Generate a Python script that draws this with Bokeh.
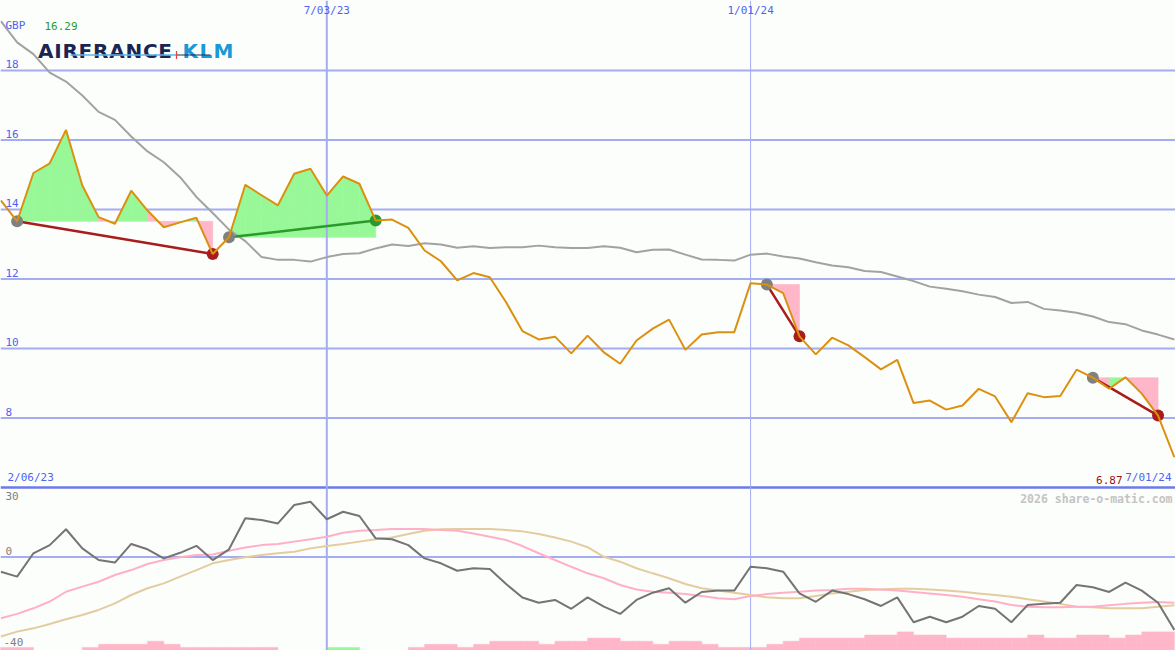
from bokeh.plotting import figure
from bokeh.models import Range1d, Span
from bokeh.embed import file_html
from bokeh.resources import INLINE
from bokeh.core.properties import value

# ---------------- data ----------------
weeks = list(range(1, 74))  # weekly points, week 0 = 2/06/23
price = [14.26, 13.66, 15.05, 15.33, 16.29, 14.69, 13.78, 13.59, 14.54, 13.97,
         13.49, 13.63, 13.76, 12.72, 13.20, 14.71, 14.41, 14.12, 15.03, 15.17,
         14.40, 14.95, 14.74, 13.68, 13.71, 13.47, 12.82, 12.51, 11.96, 12.17,
         12.05, 11.33, 10.50, 10.26, 10.34, 9.86, 10.37, 9.89, 9.56, 10.23,
         10.57, 10.83, 9.96, 10.40, 10.47, 10.47, 11.88, 11.84, 11.59, 10.35,
         9.83, 10.31, 10.09, 9.75, 9.40, 9.67, 8.43, 8.50, 8.24, 8.36,
         8.84, 8.62, 7.88, 8.71, 8.60, 8.63, 9.39, 9.16, 8.84, 9.17,
         8.70, 8.07, 6.87]
moving_avg = [19.42, 18.81, 18.47, 17.94, 17.68, 17.28, 16.81, 16.58, 16.10, 15.67,
              15.36, 14.93, 14.36, 13.90, 13.42, 13.09, 12.63, 12.55, 12.55, 12.50,
              12.63, 12.72, 12.74, 12.88, 12.99, 12.95, 13.03, 12.99, 12.90, 12.94,
              12.89, 12.91, 12.91, 12.96, 12.91, 12.89, 12.89, 12.94, 12.90, 12.77,
              12.84, 12.85, 12.70, 12.56, 12.55, 12.53, 12.70, 12.73, 12.65, 12.59,
              12.48, 12.39, 12.34, 12.23, 12.20, 12.07, 11.94, 11.78, 11.72, 11.65,
              11.55, 11.48, 11.31, 11.34, 11.14, 11.09, 11.03, 10.92, 10.76, 10.70,
              10.52, 10.40, 10.26]
osc_main = [-6.3, -8.4, 1.6, 5.1, 11.9, 3.7, -1.3, -2.4, 5.6, 3.3,
            -0.6, 1.8, 4.8, -1.3, 3.3, 16.6, 15.9, 14.4, 22.3, 23.7,
            16.2, 19.4, 17.6, 8.0, 7.6, 5.1, -0.6, -2.7, -5.9, -4.8,
            -5.1, -11.6, -17.4, -19.6, -18.4, -22.2, -17.3, -21.3, -24.4, -18.4,
            -15.3, -13.4, -19.6, -15.0, -14.4, -14.4, -4.2, -4.8, -6.3, -15.6,
            -19.2, -14.4, -15.9, -18.1, -21.0, -17.3, -28.0, -25.6, -28.0, -25.6,
            -21.0, -22.2, -28.0, -20.6, -20.1, -19.6, -12.0, -13.0, -15.0, -11.0,
            -14.4, -19.6, -31.3]
osc_fast = [-26.3, -24.4, -22.0, -19.1, -14.9, -12.7, -10.6, -7.7, -5.6, -3.0,
            -1.3, -0.1, 0.9, 1.1, 2.7, 4.1, 5.1, 5.6, 6.6, 7.6,
            8.7, 10.4, 11.3, 11.6, 12.0, 12.0, 12.0, 11.6, 11.3, 10.1,
            8.7, 7.3, 4.7, 1.6, -1.3, -4.2, -7.0, -9.1, -12.0, -13.9,
            -14.9, -15.3, -15.9, -16.7, -17.7, -18.1, -16.7, -15.9, -15.3, -14.9,
            -14.4, -14.1, -13.6, -13.6, -13.9, -14.4, -15.0, -15.6, -16.3, -17.0,
            -18.1, -19.1, -20.6, -21.3, -21.6, -21.6, -21.3, -21.3, -20.7, -20.1,
            -19.6, -19.3, -19.6]
osc_slow = [-34.1, -32.0, -30.6, -28.7, -26.7, -24.9, -22.7, -19.9, -16.3, -13.4,
            -11.3, -8.4, -5.6, -2.7, -1.3, -0.1, 0.9, 1.6, 2.3, 3.7,
            4.7, 5.6, 6.6, 7.6, 8.4, 9.9, 11.3, 11.9, 12.0, 12.0,
            12.0, 11.6, 11.0, 9.9, 8.4, 6.6, 4.2, 0.1, -2.0, -4.8,
            -7.0, -9.1, -11.6, -13.4, -14.4, -15.3, -16.3, -17.3, -17.7, -17.7,
            -16.7, -15.6, -14.9, -14.1, -13.9, -13.6, -13.6, -13.9, -14.4, -14.9,
            -15.6, -16.3, -17.0, -18.1, -19.1, -20.1, -21.3, -21.6, -22.0, -22.0,
            -22.0, -21.3, -20.7]
volume = [1, 1, 1, 0, 0, 0, 1, 2, 2, 2, 3, 2, 1, 1, 1, 1, 1, 1, 0, 0,
          0, 1, 1, 0, 0, 0, 1, 2, 2, 1, 2, 3, 3, 3, 2, 3, 3, 4, 4, 3,
          3, 2, 3, 3, 2, 1, 1, 1, 2, 3, 4, 4, 4, 4, 5, 5, 6, 5, 5, 4,
          4, 4, 4, 4, 5, 4, 4, 5, 5, 4, 5, 6, 6]
vol_green_weeks = [22, 23]
trades = [(2, 14), (15, 24), (48, 50), (68, 72)]
price_ticks = [8, 10, 12, 14, 16, 18]
osc_ticks = [30, 0, -40]
date_weeks = [0, 21, 47, 73]
date_labels = ["2/06/23", "7/03/23", "1/01/24", "7/01/24"]
currency = "GBP"

# ---------------- style ----------------
BG = "#fcfefc"
GRID = "#a4acf2"
SEP = "#6c7aea"
BLUE_TXT = "#5262f0"
ORANGE = "#dc9010"
MA_GRAY = "#a2a2a2"
GREEN_FILL = "#98f898"
PINK_FILL = "#ffb6c8"
RED = "#a81c1c"
GREEN = "#2a9a2a"
MONO = value("DejaVu Sans Mono")

W, H = 1175, 650
X0, X1 = 0.98, 73.07
P0, P1 = 1.309, 20.014

p = figure(width=W, height=H, x_range=Range1d(X0, X1), y_range=Range1d(P0, P1),
           toolbar_location=None, output_backend="svg", min_border=0,
           x_axis_location=None, y_axis_location=None,
           background_fill_color=BG, border_fill_color=BG, outline_line_color=None)
for g in p.grid:
    g.visible = False
p.extra_y_ranges = {"osc": Range1d(-40.1, 238.7), "vol": Range1d(0, 209.7)}


def xpx(px):
    return X0 + (X1 - X0) * px / 1175.0


def ypx(py):
    return P1 - (P1 - P0) * py / 650.0


# horizontal grid
for t in price_ticks:
    p.add_layout(Span(location=t, dimension="width", line_color=GRID, line_width=2, level="underlay"))
p.add_layout(Span(location=6, dimension="width", line_color=SEP, line_width=2.5, level="underlay"))
p.add_layout(Span(location=0, dimension="width", y_range_name="osc", line_color=GRID,
                  line_width=2, level="underlay"))

# volume bars
vcol = [GREEN_FILL if w in vol_green_weeks else PINK_FILL for w in weeks]
p.quad(left=[w - 1 for w in weeks], right=weeks, bottom=0, top=volume,
       fill_color=vcol, line_color=vcol, line_width=0.5, y_range_name="vol")

# trade fills
fx, fy, fc = [], [], []
for s, e in trades:
    L = price[s - 1]
    for w in range(s, e):
        a, b = price[w - 1], price[w]
        fx.append([w, w, w + 1, w + 1])
        fy.append([L, a, b, L])
        fc.append(GREEN_FILL if b >= L else PINK_FILL)
p.patches(fx, fy, fill_color=fc, line_color=fc, line_width=0.6)

# vertical date lines
p.segment(x0=[date_weeks[1]], y0=[P0], x1=[date_weeks[1]], y1=[P1], line_color=GRID, line_width=2)
p.segment(x0=[date_weeks[2]], y0=[P0], x1=[date_weeks[2]], y1=[P1], line_color=GRID, line_width=1)

# oscillator lines
p.line(weeks, osc_slow, line_color="#e4cc9e", line_width=2, y_range_name="osc")
p.line(weeks, osc_fast, line_color="#ffb0c8", line_width=2, y_range_name="osc")
p.line(weeks, osc_main, line_color="#747474", line_width=2, y_range_name="osc")

# moving average
p.line(weeks, moving_avg, line_color=MA_GRAY, line_width=2)

# trade lines and markers
for s, e in trades:
    win = price[e - 1] >= price[s - 1]
    col = GREEN if win else RED
    p.line([s, e], [price[s - 1], price[e - 1]], line_color=col, line_width=2.5)
    p.scatter([s], [price[s - 1]], size=12, marker="circle", fill_color="#808080", line_color=None)
    p.scatter([e], [price[e - 1]], size=12, marker="circle", fill_color=col, line_color=None)

# price line
p.line(weeks, price, line_color=ORANGE, line_width=2)

# ---------------- texts ----------------
p.text(x=[X0] * len(price_ticks), y=price_ticks, text=[str(t) for t in price_ticks],
       text_font=MONO, text_font_size=value("11px"), text_color=BLUE_TXT,
       text_baseline="bottom", text_align="left", x_offset=5, y_offset=-2)
p.text(x=[X0], y=[30], text=["30"], y_range_name="osc", text_font=MONO, text_font_size=value("11px"),
       text_color="#808080", text_baseline="top", x_offset=5, y_offset=5)
p.text(x=[X0], y=[0], text=["0"], y_range_name="osc", text_font=MONO, text_font_size=value("11px"),
       text_color="#808080", text_baseline="bottom", x_offset=5, y_offset=-2)
p.text(x=[X0], y=[-40], text=["-40"], y_range_name="osc", text_font=MONO, text_font_size=value("11px"),
       text_color="#808080", text_baseline="bottom", x_offset=3, y_offset=-4)

# date labels
p.text(x=date_weeks[1:3], y=[P1, P1], text=date_labels[1:3], text_font=MONO,
       text_font_size=value("11px"), text_color=BLUE_TXT, text_align="center",
       text_baseline="top", y_offset=3)
p.text(x=[X0], y=[6], text=[date_labels[0]], text_font=MONO, text_font_size=value("11px"),
       text_color=BLUE_TXT, text_baseline="bottom", text_align="left", x_offset=7, y_offset=-3)
p.text(x=[X1], y=[6], text=[date_labels[3]], text_font=MONO, text_font_size=value("11px"),
       text_color=BLUE_TXT, text_baseline="bottom", text_align="right", x_offset=-4, y_offset=-3)
p.text(x=[X1], y=[6], text=[f"{price[-1]:.2f}"], text_font=MONO, text_font_size=value("11px"),
       text_color="#a01010", text_baseline="bottom", text_align="right", x_offset=-53, y_offset=-3)
p.text(x=[X1], y=[30], y_range_name="osc", text=["2026 share-o-matic.com"], text_font=MONO,
       text_font_size=value("11.5px"), text_font_style="bold", text_color="#c4c4c4",
       text_baseline="top", text_align="right", x_offset=-3, y_offset=5)

# currency / high
p.text(x=[xpx(5)], y=[ypx(25)], text=[currency], text_font=MONO, text_font_size=value("11px"),
       text_color=BLUE_TXT, text_baseline="alphabetic")
p.text(x=[xpx(44)], y=[ypx(25)], text=[f"{max(price):.2f}"], text_font=MONO,
       text_font_size=value("11px"), text_color=GREEN, text_baseline="alphabetic")

# logo
adv = {"A": .774, "I": .372, "R": .770, "F": .683, "N": .837, "C": .734, "E": .683,
       "K": .775, "L": .637, "M": .995, " ": .348}


def spaced(word, start_px, total_px, size):
    base = sum(adv[c] for c in word) * size
    gap = (total_px - base) / max(len(word) - 1, 1)
    xs, cur = [], start_px
    for c in word:
        xs.append(cur)
        cur += adv[c] * size + gap
    return xs


ls = 20
ax = spaced("AIRFRANCE", 37.5, 134, ls)
p.text(x=[xpx(v) for v in ax], y=[ypx(50)] * 9, text=list("AIRFRANCE"),
       text_font=value("DejaVu Sans"), text_font_style="bold", text_font_size=value(f"{ls}px"),
       text_color="#1b2552", text_baseline="alphabetic")
kx = spaced("KLM", 182, 51, ls)
p.text(x=[xpx(v) for v in kx], y=[ypx(50)] * 3, text=list("KLM"),
       text_font=value("DejaVu Sans"), text_font_style="bold", text_font_size=value(f"{ls}px"),
       text_color="#1a98d8", text_baseline="alphabetic")
p.segment(x0=[xpx(70)], y0=[ypx(54.5)], x1=[xpx(176)], y1=[ypx(54.5)], line_color="#5cb6e8", line_width=1.5)
p.segment(x0=[xpx(176)], y0=[ypx(54.5)], x1=[xpx(210)], y1=[ypx(54.5)], line_color="#1b2552", line_width=1.2)
p.segment(x0=[xpx(176)], y0=[ypx(50.5)], x1=[xpx(176)], y1=[ypx(58.5)], line_color="#e0404a", line_width=1.2)

open("out.html", "w").write(file_html(p, INLINE))
